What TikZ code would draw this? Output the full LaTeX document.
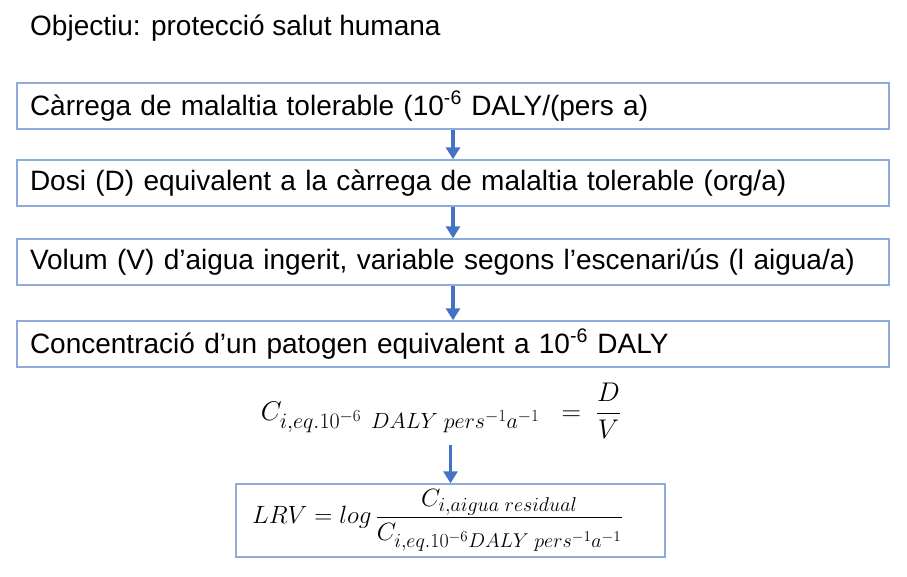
\RequirePackage{fix-cm}
\documentclass[tikz,border=0pt]{standalone}
\usepackage{fontspec}
\setmainfont{Liberation Sans}
\usetikzlibrary{arrows.meta}
\DeclareMathSizes{27}{27}{22}{17}
\DeclareMathSizes{25}{25}{20}{15}
\definecolor{boxblue}{RGB}{143,170,220}
\definecolor{arrowblue}{RGB}{68,114,196}
\tikzset{
  stepbox/.style={draw=boxblue, line width=1.4pt, minimum width=872pt, text width=846pt,
    inner xsep=13pt, inner ysep=0pt, minimum height=46pt, align=left,
    font=\fontsize{28}{32}\selectfont},
  flow/.style={draw=arrowblue, line width=3.5pt, -{Triangle[length=12pt,width=14pt]}},
  mathtext/.style={font=\fontsize{27}{31}\selectfont, inner sep=0pt}
}
\begin{document}
\begin{tikzpicture}[x=1pt,y=-1pt]
\useasboundingbox (0,0) rectangle (907,577);
\node[anchor=west, font=\fontsize{28}{32}\selectfont, inner sep=0pt] (title) at (30,28) {Objectiu: protecció salut humana};
\node[stepbox] (b1) at (453,106) {Càrrega de malaltia tolerable (10\textsuperscript{-6} DALY/(pers a)};
\node[stepbox] (b2) at (453,183) {Dosi (D) equivalent a la càrrega de malaltia tolerable (org/a)};
\node[stepbox] (b3) at (453,262) {Volum (V) d’aigua ingerit, variable segons l’escenari/ús (l aigua/a)};
\node[stepbox] (b4) at (453,344) {Concentració d’un patogen equivalent a 10\textsuperscript{-6} DALY};
\node[mathtext] (f1) at (441,411) {$\displaystyle C_{i,eq.10^{-6}\hspace{10pt}DALY\;pers^{-1}a^{-1}}\hspace{14pt}=\;\frac{D}{V}$};
\node[draw=boxblue, line width=1.4pt, minimum width=429pt, minimum height=73pt, inner sep=0pt,
      font=\fontsize{25}{30}\selectfont] (b5) at (450.5,520.5)
  {$\displaystyle LRV=log\,\frac{C_{i,aigua\;residual}}{C_{i,eq.10^{-6}DALY\;pers^{-1}a^{-1}}}$\hspace*{26pt}};
\draw[flow] (b1.south) -- (b2.north);
\draw[flow] (b2.south) -- (b3.north);
\draw[flow] (b3.south) -- (b4.north);
\draw[flow, shorten <=6pt] (b5.north |- f1.south) -- (b5.north);
\end{tikzpicture}
\end{document}
